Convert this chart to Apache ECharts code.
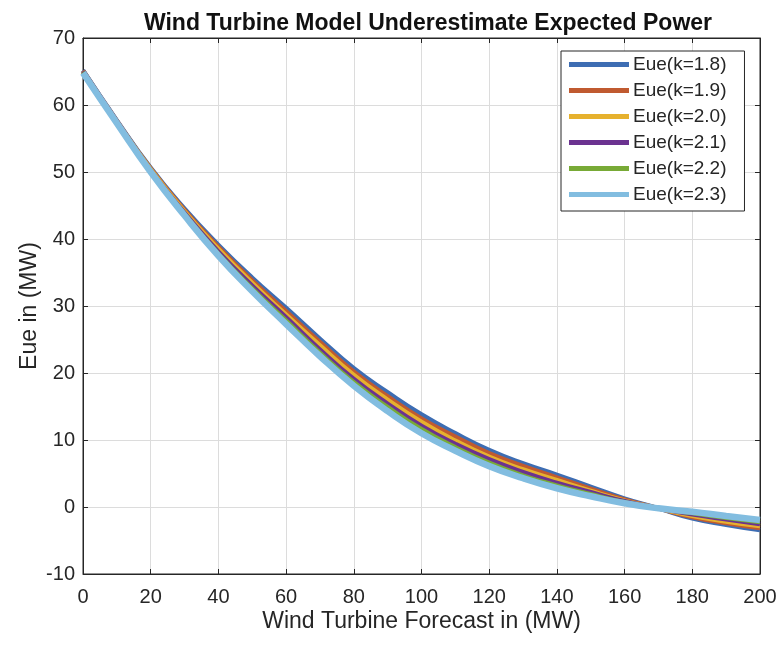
<!DOCTYPE html>
<html>
<head>
<meta charset="utf-8">
<script src="https://cdn.jsdelivr.net/npm/echarts@6/dist/echarts.min.js"></script>
<style>html,body{margin:0;padding:0;background:#fff}#c{width:781px;height:645px}</style>
</head>
<body>
<div id="c"></div>
<script>
const xValues = [0,10,20,30,40,50,60,70,80,90,100,110,120,130,140,150,160,170,180,190,200];
const seriesNames = ['Eue(k=1.8)','Eue(k=1.9)','Eue(k=2.0)','Eue(k=2.1)','Eue(k=2.2)','Eue(k=2.3)'];
const eueK18 = [65.2,57.7,50.6,44.5,39.1,34.2,29.7,25.1,20.7,17.1,13.8,11.0,8.5,6.5,4.8,3.0,1.25,-0.2,-1.7,-2.65,-3.45];
const eueK19 = [65.1,57.6,50.5,44.3,38.8,33.8,29.2,24.6,20.2,16.5,13.2,10.5,8.0,6.1,4.4,2.7,1.1,-0.2,-1.5,-2.4,-3.15];
const eueK20 = [65.0,57.5,50.4,44.1,38.5,33.4,28.7,24.1,19.7,16.0,12.7,9.9,7.5,5.6,4.0,2.4,0.95,-0.2,-1.3,-2.15,-2.85];
const eueK21 = [65.0,57.5,50.2,43.9,38.1,33.0,28.3,23.5,19.1,15.4,12.1,9.4,7.1,5.2,3.6,2.2,0.85,-0.2,-1.1,-1.85,-2.55];
const eueK22 = [64.9,57.4,50.1,43.7,37.8,32.6,27.8,23.0,18.6,14.9,11.6,8.9,6.6,4.7,3.2,1.9,0.7,-0.2,-0.9,-1.6,-2.25];
const eueK23 = [64.8,57.3,50.0,43.5,37.5,32.2,27.3,22.5,18.1,14.3,11.0,8.4,6.1,4.3,2.8,1.6,0.55,-0.2,-0.7,-1.35,-1.95];
const xTicks = [0,20,40,60,80,100,120,140,160,180,200];
const yTicks = [-10,0,10,20,30,40,50,60,70];

const allData = [eueK18,eueK19,eueK20,eueK21,eueK22,eueK23];
const colors = ['#3d6db3','#c05a30','#e6b12e','#6b3290','#78aa36','#82bde0'];
const widths = [4.5,4.5,4.5,4.5,4.5,6.5];
const font = 'Liberation Sans, Arial, Helvetica, sans-serif';
const textColor = '#262626';

const chart = echarts.init(document.getElementById('c'), null, {renderer:'canvas'});
const axisCommon = {
  type:'value',
  axisLine:{show:true,lineStyle:{color:'#262626',width:1}},
  axisTick:{show:true,inside:true,length:5,lineStyle:{color:'#262626'}},
  splitLine:{show:false},
  axisLabel:{show:false}
};
chart.setOption({
  animation:false,
  backgroundColor:'#fff',
  title:{
    text:'Wind Turbine Model Underestimate Expected Power',
    left:423, textAlign:'center', top:7,
    textStyle:{fontFamily:font,fontWeight:'bold',fontSize:23,color:'#111'}
  },
  grid:{left:83,right:21,top:38,bottom:71,show:true,borderColor:'#262626',borderWidth:1,backgroundColor:'#fff'},
  legend:{
    orient:'vertical', left:561, top:51,
    data:seriesNames,
    icon:'rect', itemWidth:60, itemHeight:5, itemGap:7,
    padding:[4,18,7,8],
    borderColor:'#262626', borderWidth:1, backgroundColor:'#fff',
    textStyle:{fontFamily:font,fontSize:19,color:textColor,padding:[0,0,0,-1]}
  },
  xAxis:[
    {
      type:'value', min:0, max:200, interval:20,
      name:'Wind Turbine Forecast in (MW)', nameLocation:'middle', nameGap:36, nameMoveOverlap:false,
      nameTextStyle:{fontFamily:font,fontSize:23,color:textColor},
      axisLine:{show:true,onZero:false,lineStyle:{color:'#262626',width:1}},
      axisTick:{show:true,inside:true,length:5,lineStyle:{color:'#262626'}},
      axisLabel:{fontFamily:font,fontSize:20,color:textColor,margin:13,
        formatter:v=>xTicks.includes(v)?String(v):''},
      splitLine:{show:true,lineStyle:{color:'#dcdcdc',width:1}}
    },
    Object.assign({},axisCommon,{position:'top',min:0,max:200,interval:20,axisLine:{show:true,onZero:false,lineStyle:{color:'#262626'}}})
  ],
  yAxis:[
    {
      type:'value', min:-10, max:70, interval:10,
      name:'Eue in (MW)', nameLocation:'middle', nameGap:42, nameMoveOverlap:false,
      nameTextStyle:{fontFamily:font,fontSize:23,color:textColor},
      axisLine:{show:true,onZero:false,lineStyle:{color:'#262626',width:1}},
      axisTick:{show:true,inside:true,length:5,lineStyle:{color:'#262626'}},
      axisLabel:{fontFamily:font,fontSize:20,color:textColor,margin:8,
        formatter:v=>yTicks.includes(v)?String(v):''},
      splitLine:{show:true,lineStyle:{color:'#dcdcdc',width:1}}
    },
    Object.assign({},axisCommon,{position:'right',min:-10,max:70,interval:10,axisLine:{show:true,onZero:false,lineStyle:{color:'#262626'}}})
  ],
  series: seriesNames.map((n,i)=>({
    name:n, type:'line', smooth:true, showSymbol:false, symbol:'none',
    xAxisIndex:0, yAxisIndex:0,
    data: xValues.map((x,j)=>[x, allData[i][j]]),
    lineStyle:{color:colors[i],width:widths[i]},
    itemStyle:{color:colors[i]},
    z: 2+i
  }))
});
</script>
</body>
</html>
